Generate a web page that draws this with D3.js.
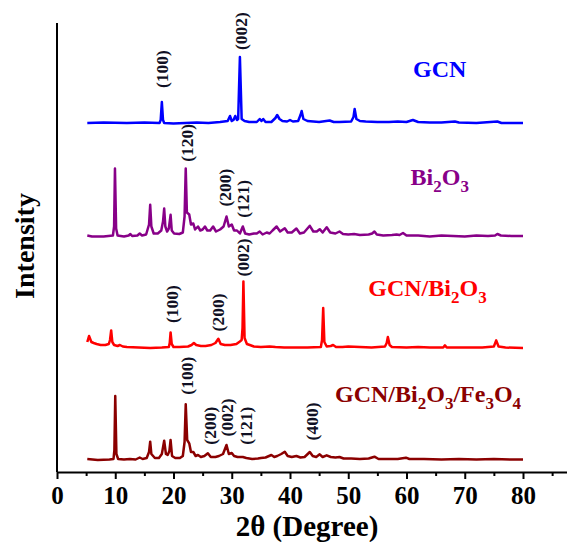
<!DOCTYPE html>
<html>
<head>
<meta charset="utf-8">
<script src="https://cdn.jsdelivr.net/npm/d3@7/dist/d3.min.js"></script>
<style>
  html, body { margin: 0; padding: 0; background: #fff; }
  svg { display: block; }
  text { font-family: "Liberation Serif", "Times New Roman", serif; font-weight: bold; }
</style>
</head>
<body>
<svg id="chart" width="567" height="542"></svg>
<script>
// XRD patterns: [2θ (deg), intensity above the pattern's own baseline]
const gcnPattern = [
  [5.2,0],[8,0.5],[12,0],[15,0.5],[17.6,0],[17.8,3],[18.0,21],[18.2,3],[18.4,0],[20,-0.5],[22,0],[24,0.5],
  [26,0],[28,1],[29.3,2],[29.7,7],[30.0,2],[30.3,3],[30.6,7],[30.9,3],[31.1,4],[31.4,66],[31.7,4],[32.2,2],
  [33,1],[34.3,1],[34.8,4],[35.1,2],[35.4,4],[35.8,1],[36.8,1],[37.5,5],[37.8,8],[38.2,4],[38.7,2],[39.5,1.5],
  [40,3],[40.5,1.5],[41.4,2],[41.8,8],[42.0,12],[42.3,4],[43,2],[44,1.5],[45,1],[46.8,2.5],[47.5,1],[48.5,1],
  [50.5,1.5],[50.9,6],[51.1,14],[51.4,4],[52,2],[53,1.5],[55,1],[57,1],[58.5,1.5],[60,1],[61.1,3],[62,1],
  [64,0.5],[66,0.5],[68.3,1.5],[69,0.5],[72,0],[75.6,1.5],[76.3,0],[80,0]
];
const bi2o3Pattern = [
  [5.2,1],[6,0],[8,0],[9.6,1],[9.8,10],[9.95,68],[10.15,8],[10.4,1],[11.5,0],[12.3,1],[12.6,2.5],[12.9,0.5],
  [13.8,1],[14.2,3],[14.6,1],[15.3,2],[15.8,12],[16.0,31.7],[16.2,10],[16.6,3],[17.3,3],[17.9,6],[18.2,15],
  [18.4,28],[18.6,10],[18.9,5],[19.2,8],[19.5,21.7],[19.7,6],[20.1,3],[21,2.5],[21.6,4],[21.9,20],[22.1,68],
  [22.3,24],[22.7,22],[23.0,12],[23.4,13],[23.7,7],[24.2,10],[24.6,6],[25.0,7],[25.4,10],[25.8,6],[26.3,6],
  [26.8,10],[27.3,5],[28.0,7],[28.6,10],[29.1,20],[29.5,10],[30.0,12],[30.4,6],[30.9,6],[31.4,3],[31.9,10],
  [32.3,3],[33.0,2],[33.8,3],[34.3,3],[34.8,5],[35.3,2],[36.0,4],[36.5,3],[37.0,6],[37.7,10],[38.3,5],
  [39.1,8.3],[39.6,4],[40.3,4],[41.1,8],[41.7,3],[42.4,4],[43.4,10.7],[44.0,5],[44.6,5],[45.1,7.3],[45.6,4],
  [46.3,9.3],[46.9,4],[47.8,3],[48.5,5],[49.1,2.5],[50,2],[51,2.5],[52,1.5],[53.5,2],[54.1,3],[54.5,5],
  [54.9,2],[56,1],[57.5,1.5],[58.3,2],[58.8,1.5],[59.4,3.5],[60,1],[62,1],[64,0],[66,1],[68,0.5],[70,0],
  [72,1],[74,0.5],[75.2,1],[75.6,2.5],[76.2,1],[78,0.5],[80,0.5]
];
const gcnBi2o3Pattern = [
  [5.2,6],[5.5,12],[5.9,6],[6.3,5],[6.8,4],[7.5,3],[8.3,3],[8.9,4],[9.1,8],[9.3,17.6],[9.5,6],[9.8,3],
  [10.4,2],[10.8,3],[11.3,1.5],[12,1],[14,0.5],[16,0],[18,0.5],[19.2,1],[19.35,5],[19.5,15.6],[19.7,4],
  [20,1],[21,1],[22.5,1.5],[23.1,3],[23.5,5],[23.9,3],[24.7,2],[25.5,2],[26.5,3],[27.2,5],[27.7,9.3],
  [28.1,4],[28.8,3],[29.8,3],[30.8,4],[31.4,6.6],[31.7,8],[31.85,20],[32.0,66.6],[32.2,10],[32.6,4],[33.1,3],
  [33.8,1.5],[35,1],[36.5,1.5],[37.5,1],[39,0.5],[41,0.5],[43,0.5],[45.3,1],[45.5,8],[45.7,40],[45.9,6],
  [46.3,1.5],[47.0,2],[47.4,3],[47.9,1],[49,1],[50,1.5],[52,1],[54,0.5],[56.3,1.5],[56.6,5],[56.8,11],
  [57.1,3],[57.5,1],[60,0.5],[62,1],[64,0.5],[66.3,0.5],[66.6,2.6],[66.9,0.5],[70,0.5],[73,0.5],[75.0,1.5],
  [75.4,7.6],[75.8,1.5],[77,0.5],[80,0]
];
const ternaryPattern = [
  [5.2,1],[7,0],[9,0.5],[9.7,1],[9.85,10],[10.0,64],[10.2,6],[10.5,1],[11.5,0.5],[12.5,1],[13.5,0.5],
  [14.2,2.5],[14.7,1],[15.4,2],[15.8,8],[16.0,18.3],[16.2,6],[16.8,2],[17.5,2],[18.0,6],[18.4,19.3],[18.7,6],
  [19.0,5],[19.3,9],[19.5,20],[19.75,4],[20.3,2],[21.1,2],[21.6,4],[21.9,18],[22.1,55.7],[22.35,20],
  [22.7,16.7],[23.0,8],[23.4,8],[23.8,4],[24.2,5],[24.7,3],[25.3,4],[25.9,6.7],[26.4,3],[27.2,3],[27.8,4],
  [28.5,6],[29.1,15],[29.5,6],[30.0,7],[30.4,4],[31.0,3],[31.9,3],[32.5,2],[33.5,1],[34.5,1.5],[35.0,2],
  [35.8,2.5],[36.8,5],[37.3,3],[37.8,4],[38.5,6],[39.1,8.3],[39.6,4],[40.3,3],[41.1,4],[41.8,2.5],[42.5,3],
  [43.4,8],[43.9,4],[44.5,3],[45.1,5.7],[45.6,3],[46.3,4.7],[47,3],[47.8,2.5],[48.5,3],[49.2,1.5],[50.5,1.5],
  [52,1],[53.5,1.5],[54.5,3.3],[55.2,1],[57,1],[58.5,1],[59.9,2.3],[60.5,1],[63,1],[66,0.5],[69,1],[72,0.5],
  [75,1],[78,0.5],[80,0.5]
];

// Sample names ("_" marks a subscript digit), stacking offsets and colours
const sampleNames   = ["GCN", "Bi_2O_3", "GCN/Bi_2O_3", "GCN/Bi_2O_3/Fe_3O_4"];
const sampleOffsets = [349, 235.5, 124, 12];
const sampleColors  = ["#0000ff", "#880088", "#ff0000", "#8b0000"];
const samplePatterns = [gcnPattern, bi2o3Pattern, gcnBi2o3Pattern, ternaryPattern];

// Miller-index annotations per sample: [2θ, label, height above baseline where text starts]
const gcnPlanes      = [[17.96, "(100)", 35], [31.6, "(002)", 73]];
const bi2o3Planes    = [[22.25, "(120)", 74.7], [28.8, "(200)", 30], [31.96, "(121)", 18.7]];
const gcnBi2o3Planes = [[19.7, "(100)", 25], [27.7, "(200)", 16.6], [32.0, "(002)", 71.6]];
const ternaryPlanes  = [[22.25, "(100)", 65.3], [26.25, "(200)", 15.3], [29.1, "(002)", 23.6],
                        [32.5, "(121)", 15.3], [43.7, "(400)", 19.6]];
const samplePlanes = [gcnPlanes, bi2o3Planes, gcnBi2o3Planes, ternaryPlanes];

// Name label anchors in data units: [2θ centre, intensity of baseline]
const nameAnchors = [[65.7, 395], [65.7, 287], [63.6, 176], [63.7, 70.5]];

const majorTicks = [0, 10, 20, 30, 40, 50, 60, 70, 80];
const minorTicks = [5, 15, 25, 35, 45, 55, 65, 75, 85];

const svg = d3.select("#chart");
const x = d3.scaleLinear().domain([0, 88]).range([57, 569.6]);
const y = d3.scaleLinear().domain([0, 450]).range([472, 22]);

// Patterns
const line = d3.line().x(d => x(d[0])).y(d => y(d[1]));
samplePatterns.forEach((pat, i) => {
  const off = sampleOffsets[i];
  svg.append("path")
    .datum(pat.map(d => [d[0], d[1] + off]))
    .attr("d", line)
    .attr("fill", "none")
    .attr("stroke", sampleColors[i])
    .attr("stroke-width", 2.5)
    .attr("stroke-linejoin", "round");
});

// Axes
const xAxisG = svg.append("g").attr("transform", `translate(0,${y(0)})`);
xAxisG.call(d3.axisBottom(x).tickValues(minorTicks).tickSize(4).tickFormat(""));
xAxisG.call(g => g.select(".domain").remove());
const xMajor = svg.append("g").attr("transform", `translate(0,${y(0)})`)
  .call(d3.axisBottom(x).tickValues(majorTicks).tickSize(7).tickSizeOuter(0).tickPadding(10).tickFormat(d3.format("d")));
svg.selectAll(".tick line").attr("stroke", "#000").attr("stroke-width", 2);
xMajor.select(".domain").attr("stroke", "#000").attr("stroke-width", 2);
xMajor.selectAll(".tick text")
  .attr("font-family", "Liberation Serif, Times New Roman, serif")
  .attr("font-weight", "bold").attr("font-size", 25).attr("fill", "#000")
  .attr("dy", 0).attr("y", 32);

svg.append("line")
  .attr("x1", x(0)).attr("x2", x(0))
  .attr("y1", y(449)).attr("y2", y(0))
  .attr("stroke", "#000").attr("stroke-width", 2);

// Axis titles
svg.append("text")
  .attr("x", 307).attr("y", 535.5)
  .attr("text-anchor", "middle").attr("font-size", 29)
  .text("2θ (Degree)");
svg.append("text")
  .attr("transform", "translate(34,246) rotate(-90)")
  .attr("text-anchor", "middle").attr("font-size", 28)
  .text("Intensity");

// Sample names with subscripts
function addName(str, cx, cy, color) {
  const t = svg.append("text")
    .attr("x", cx).attr("y", cy)
    .attr("text-anchor", "middle").attr("font-size", 24).attr("fill", color);
  let i = 0, low = false;
  while (i < str.length) {
    if (str[i] === "_") {
      t.append("tspan").attr("font-size", 17).attr("dy", 7).text(str[i + 1]);
      low = true; i += 2;
    } else {
      let j = i;
      while (j < str.length && str[j] !== "_") j++;
      const sp = t.append("tspan").text(str.slice(i, j));
      if (low) { sp.attr("dy", -7); low = false; }
      i = j;
    }
  }
}
sampleNames.forEach((n, i) => addName(n, x(nameAnchors[i][0]), y(nameAnchors[i][1]), sampleColors[i]));

// Miller indices
samplePlanes.forEach((planes, i) => {
  planes.forEach(p => {
    const px = x(p[0]), py = y(p[2] + sampleOffsets[i]);
    svg.append("text")
      .attr("transform", `translate(${px},${py}) rotate(-90)`)
      .attr("dominant-baseline", "central")
      .attr("font-size", 17.5).attr("fill", "#101024")
      .text(p[1]);
  });
});
</script>
</body>
</html>
